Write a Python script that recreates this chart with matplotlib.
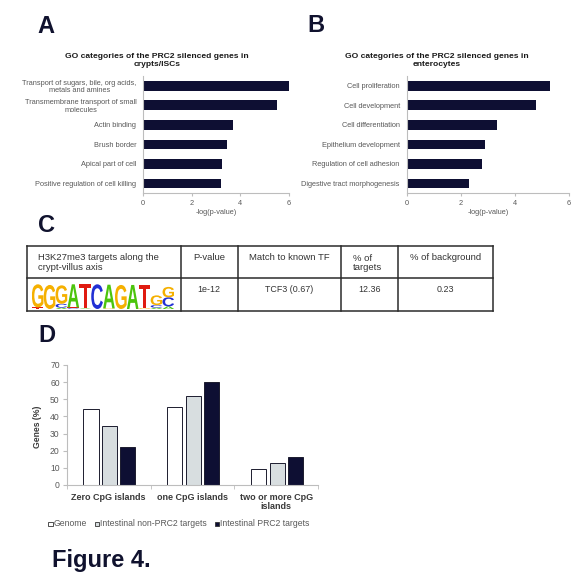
import matplotlib
matplotlib.use("Agg")
import matplotlib.pyplot as plt
from matplotlib.patches import Rectangle, PathPatch
from matplotlib.lines import Line2D
from matplotlib.textpath import TextPath
from matplotlib.font_manager import FontProperties
from matplotlib.transforms import Affine2D

plt.rcParams["font.family"] = ["Liberation Sans", "DejaVu Sans"]

# ---------------- data ----------------
go_crypt_terms = [
    "Transport of sugars, bile, org acids,\nmetals and amines",
    "Transmembrane transport of small\nmolecules",
    "Actin binding",
    "Brush border",
    "Apical part of cell",
    "Positive regulation of cell killing",
]
go_crypt_scores = [6.0, 5.53, 3.72, 3.46, 3.24, 3.21]

go_entero_terms = [
    "Cell proliferation",
    "Cell development",
    "Cell differentiation",
    "Epithelium development",
    "Regulation of cell adhesion",
    "Digestive tract morphogenesis",
]
go_entero_scores = [5.31, 4.79, 3.34, 2.90, 2.81, 2.32]

log_ticks = [0, 2, 4, 6]

table_header = ["H3K27me3 targets along the\ncrypt-villus axis", "P-value",
                "Match to known TF", "% of\ntargets", "% of background"]
table_row = ["1e-12", "TCF3 (0.67)", "12.36", "0.23"]

# motif logo: per position, (base, bits) stacked bottom to top
motif_columns = [
    [("T", 0.12), ("G", 1.78)],
    [("G", 1.85)],
    [("A", 0.10), ("C", 0.30), ("G", 1.42)],
    [("C", 0.06), ("T", 0.06), ("A", 1.78)],
    [("A", 0.05), ("T", 1.85)],
    [("C", 1.90)],
    [("G", 0.05), ("A", 1.82)],
    [("G", 1.85)],
    [("A", 1.85)],
    [("G", 0.06), ("T", 1.75)],
    [("A", 0.10), ("C", 0.20), ("G", 0.75)],
    [("A", 0.20), ("C", 0.70), ("G", 0.80)],
]

cpg_groups = ["Zero CpG islands", "one CpG islands", "two or more CpG\nislands"]
cpg_series = ["Genome", "Intestinal non-PRC2 targets", "Intestinal PRC2 targets"]
cpg_genome = [44.6, 45.4, 9.2]
cpg_non_prc2 = [34.7, 51.9, 13.1]
cpg_prc2 = [22.2, 60.2, 16.6]
genes_ticks = [0, 10, 20, 30, 40, 50, 60, 70]

# ---------------- style ----------------
W, H = 587, 575
NAVY = "#0e0f33"
LIGHT = "#d8dee0"
GREY_TXT = "#595959"
DARK_TXT = "#333333"
AXIS_C = "#bdbdbd"
base_colors = {"A": "#4cc40c", "C": "#2230d4", "G": "#f5b000", "T": "#e01b10"}

fig = plt.figure(figsize=(W / 100, H / 100), dpi=100)
fig.patch.set_facecolor("white")


def fx(x):
    return x / W


def fy(y):
    return 1 - y / H


def box(left, top, right, bottom):
    return [left / W, 1 - bottom / H, (right - left) / W, (bottom - top) / H]


def panel_letter(ch, x, y):
    fig.text(fx(x), fy(y), ch, fontsize=17, fontweight="bold", color="#10122e",
             ha="center", va="center")


def go_panel(rect, terms, scores, title, title_x, xlabel_x):
    ax = fig.add_axes(rect)
    ax.barh(range(len(scores)), scores, height=0.5, color=NAVY)
    ax.set_ylim(len(scores) - 0.5, -0.5)
    ax.set_xlim(log_ticks[0], log_ticks[-1])
    ax.set_xticks(log_ticks)
    ax.set_yticks(range(len(terms)))
    ax.set_yticklabels(terms, multialignment="center", linespacing=1.1)
    for s in ("top", "right"):
        ax.spines[s].set_visible(False)
    for s in ("left", "bottom"):
        ax.spines[s].set_color(AXIS_C)
        ax.spines[s].set_linewidth(0.8)
    ax.tick_params(axis="x", length=2, color=AXIS_C, labelsize=5.3,
                   labelcolor=GREY_TXT, pad=3)
    ax.tick_params(axis="y", length=0, labelsize=5.3, labelcolor=GREY_TXT, pad=5)
    fig.text(fx(title_x), fy(60.5), title, fontsize=6.1, fontweight="bold",
             color="#1a1a1a", ha="center", va="center", linespacing=1.05)
    fig.text(fx(xlabel_x), fy(212.7), "-log(p-value)", fontsize=5.3,
             color=GREY_TXT, ha="center", va="center")
    return ax


# ---------------- panel A ----------------
panel_letter("A", 46, 26.7)
go_panel(box(143.3, 76, 288.5, 193.3), go_crypt_terms, go_crypt_scores,
         "GO categories of the PRC2 silenced genes in\ncrypts/ISCs", 156.7, 215.8)

# ---------------- panel B ----------------
panel_letter("B", 315.5, 26)
go_panel(box(406.7, 76, 568.5, 193.3), go_entero_terms, go_entero_scores,
         "GO categories of the PRC2 silenced genes in\nenterocytes", 436.7, 488.3)

# ---------------- panel C: motif table ----------------
panel_letter("C", 46.5, 226)
col_x = [26.7, 180.7, 237.7, 341, 397.5, 493]
row_y = [246, 278.3, 310.7]
for y in row_y:
    fig.add_artist(Line2D([fx(col_x[0]), fx(col_x[-1])], [fy(y), fy(y)],
                          color="#2b2b2b", lw=1.1, transform=fig.transFigure))
for x in col_x:
    fig.add_artist(Line2D([fx(x), fx(x)], [fy(row_y[0]), fy(row_y[-1])],
                          color="#2b2b2b", lw=1.1, transform=fig.transFigure))

hdr_y = (row_y[0] + row_y[1]) / 2 - 2.5
fig.text(fx(38.3), fy(262.5), table_header[0], fontsize=6.8, color=DARK_TXT,
         ha="left", va="center", linespacing=1.05)
fig.text(fx((col_x[1] + col_x[2]) / 2), fy(257.3), table_header[1], fontsize=6.8,
         color=DARK_TXT, ha="center", va="center")
fig.text(fx((col_x[2] + col_x[3]) / 2), fy(257.3), table_header[2], fontsize=6.8,
         color=DARK_TXT, ha="center", va="center")
fig.text(fx(353), fy(262.8), table_header[3], fontsize=6.8, color=DARK_TXT,
         ha="left", va="center", linespacing=1.05)
fig.text(fx((col_x[4] + col_x[5]) / 2), fy(257.3), table_header[4], fontsize=6.8,
         color=DARK_TXT, ha="center", va="center")
for i, val in enumerate(table_row):
    cx = (col_x[i + 1] + col_x[i + 2]) / 2
    fig.text(fx(cx), fy(290), val, fontsize=6.4, color=DARK_TXT,
             ha="center", va="center")

# sequence logo drawn from letter outlines
logo_ax = fig.add_axes(box(31.7, 283, 174.3, 309))
logo_ax.set_xlim(0, len(motif_columns))
logo_ax.set_ylim(0, 2)
logo_ax.axis("off")
logo_font = FontProperties(family="Liberation Sans", weight="bold")
for i, column in enumerate(motif_columns):
    y0 = 0.0
    for base, bits in column:
        tp = TextPath((0, 0), base, size=1, prop=logo_font)
        bb = tp.get_extents()
        tr = (Affine2D().translate(-bb.x0, -bb.y0)
              .scale(0.98 / bb.width, bits / bb.height)
              .translate(i + 0.01, y0))
        logo_ax.add_patch(PathPatch(tr.transform_path(tp), fc=base_colors[base],
                                    lw=0))
        y0 += bits

# ---------------- panel D ----------------
panel_letter("D", 46.7, 335.5)
axd = fig.add_axes(box(66.7, 365, 318.3, 485))
bar_w = 0.18
offsets = [-0.21, 0.01, 0.23]
series_vals = [cpg_genome, cpg_non_prc2, cpg_prc2]
fills = ["white", LIGHT, NAVY]
for vals, off, fc in zip(series_vals, offsets, fills):
    axd.bar([g + off for g in range(len(cpg_groups))], vals, width=bar_w,
            color=fc, edgecolor="#1c1c2e", linewidth=0.7)
axd.set_xlim(-0.5, len(cpg_groups) - 0.5)
axd.set_ylim(genes_ticks[0], genes_ticks[-1])
axd.set_yticks(genes_ticks)
axd.set_xticks(range(len(cpg_groups)))
axd.set_xticklabels(cpg_groups, fontsize=6.5, fontweight="bold", color="#3a3a3a",
                    linespacing=1.0)
axd.set_xticks([g - 0.5 for g in range(len(cpg_groups) + 1)], minor=True)
for s in ("top", "right"):
    axd.spines[s].set_visible(False)
for s in ("left", "bottom"):
    axd.spines[s].set_color(AXIS_C)
    axd.spines[s].set_linewidth(0.8)
axd.tick_params(axis="x", which="major", length=0, pad=6)
axd.tick_params(axis="x", which="minor", length=3, color=AXIS_C)
axd.tick_params(axis="y", length=3, color=AXIS_C, labelsize=6.2,
                labelcolor=GREY_TXT, pad=2)
fig.text(fx(37.7), fy(426.7), "Genes (%)", rotation=90, fontsize=6.2,
         fontweight="bold", color="#3a3a3a", ha="center", va="center")

# legend row
legend_x = [48.3, 95, 215]
for x, name, fc in zip(legend_x, cpg_series, fills):
    fig.add_artist(Rectangle((fx(x), fy(526.3)), 4.3 / W, 4.3 / H, fc=fc,
                             ec="#333333", lw=0.6, transform=fig.transFigure))
    fig.text(fx(x + 5.5), fy(524), name, fontsize=6.2, color=GREY_TXT,
             ha="left", va="center")

fig.text(fx(52), fy(560), "Figure 4.", fontsize=17, fontweight="bold",
         color="#10122e", ha="left", va="center")

fig.savefig("out.png", dpi=100, facecolor="white")
